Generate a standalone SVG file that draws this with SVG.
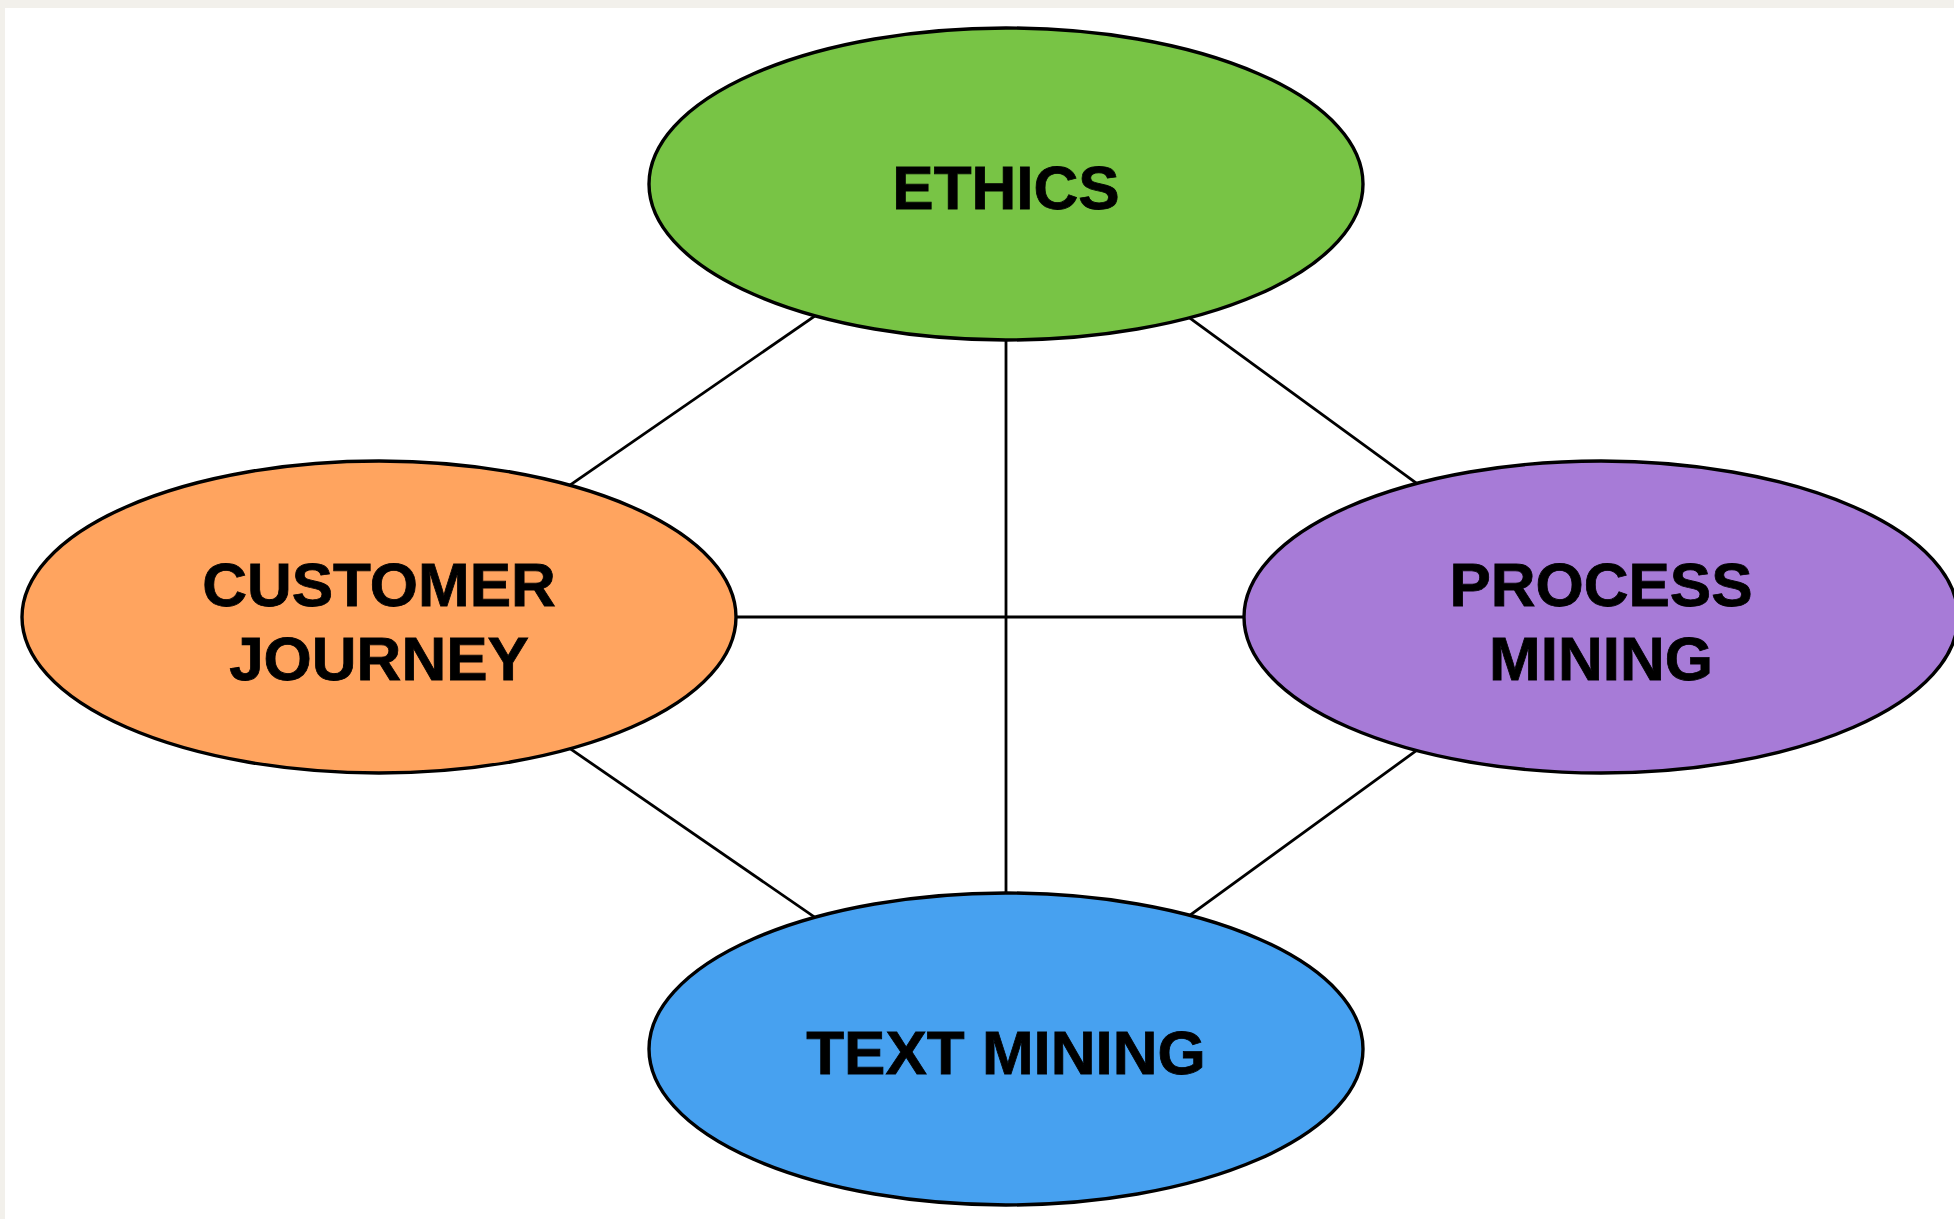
<svg xmlns="http://www.w3.org/2000/svg" width="1954" height="1219" viewBox="0 0 1954 1219">
<style>
.node{stroke:#000;stroke-width:3.4}
.lbl{font-family:"Liberation Sans",Arial,Helvetica,sans-serif;font-weight:bold;font-size:62px;fill:#000;text-anchor:middle;stroke:#000;stroke-width:0.8}
.conn line{stroke:#000;stroke-width:2.8}
</style>
<rect x="0" y="0" width="1954" height="1219" fill="#f2f0eb"/>
<rect x="5" y="8" width="1949" height="1211" fill="#ffffff"/>
<g id="connectors" class="conn">
<line x1="1006" y1="184" x2="379" y2="617"/>
<line x1="1006" y1="184" x2="1600" y2="617"/>
<line x1="1006" y1="184" x2="1006" y2="1049"/>
<line x1="379" y1="617" x2="1600" y2="617"/>
<line x1="379" y1="617" x2="1006" y2="1049"/>
<line x1="1600" y1="617" x2="1006" y2="1049"/>
</g>
<g id="ethics">
<ellipse class="node" cx="1006" cy="184" rx="357" ry="156" fill="#78c445"/>
<text class="lbl" x="1006" y="209">ETHICS</text>
</g>
<g id="customer-journey">
<ellipse class="node" cx="379" cy="617" rx="357" ry="156" fill="#ffa45f"/>
<text class="lbl" x="379" y="606">CUSTOMER</text>
<text class="lbl" x="379" y="680">JOURNEY</text>
</g>
<g id="process-mining">
<ellipse class="node" cx="1601" cy="617" rx="357" ry="156" fill="#a77bd7"/>
<text class="lbl" x="1601" y="606">PROCESS</text>
<text class="lbl" x="1601" y="680">MINING</text>
</g>
<g id="text-mining">
<ellipse class="node" cx="1006" cy="1049" rx="357" ry="156" fill="#47a1f0"/>
<text class="lbl" x="1006" y="1074">TEXT MINING</text>
</g>
</svg>
